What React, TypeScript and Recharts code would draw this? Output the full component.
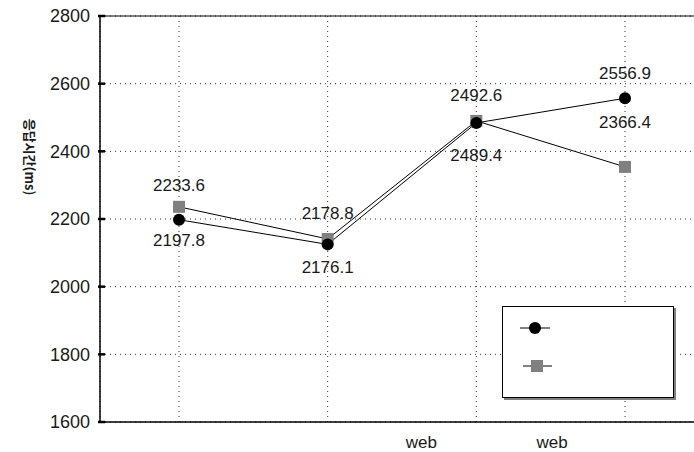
import { LineChart, Line, XAxis, YAxis, CartesianGrid, ReferenceLine, LabelList, Legend } from "recharts";

// category names; the first two labels show nothing in the original
const categories = ["", "", "web", "web"];

// black circle series
const circleValues = [2197.8, 2125, 2484, 2556.9];
const circleLabels = ["2197.8", "2176.1", "2489.4", "2556.9"];

// grey square series
const squareValues = [2236, 2141, 2490, 2354];
const squareLabels = ["2233.6", "2178.8", "2492.6", "2366.4"];

const yTicks = [1600, 1800, 2000, 2200, 2400, 2600, 2800];
const yLabel = "응답시간(ms)";

const data = categories.map((c, i) => ({
    i,
    name: c,
    circle: circleValues[i],
    square: squareValues[i],
}));

const FONT = "'Liberation Sans', Arial, sans-serif";

// small per-point nudges so labels sit where the original put them
const circleDy = [20, 23, 32, -25];
const squareDy = [-22, -26, -26, -45];
const xLabelDx = [0, 0, -55, -73];

function YTick(props: any) {
    const { x, y, payload } = props;
    return (
        <g>
            <line x1={x} x2={x + 7} y1={y} y2={y} stroke="#000" strokeWidth={2.5} />
            <text x={x - 8} y={y} dy="0.35em" textAnchor="end" fontSize={18} fontFamily={FONT} fill="#1a1a1a">
                {payload.value}
            </text>
        </g>
    );
}

function XTick(props: any) {
    const { x, y, payload, index } = props;
    const label = categories[payload.value];
    if (!label) return null;
    return (
        <text x={x + xLabelDx[index]} y={y + 24} textAnchor="middle" fontSize={17} fontFamily={FONT} fill="#1a1a1a">
            {label}
        </text>
    );
}

function pointLabel(labels: string[], offsets: number[]) {
    return (props: any) => {
        const { x, y, index } = props;
        return (
            <text x={x} y={y + offsets[index]} dy="0.35em" textAnchor="middle" fontSize={17} fontFamily={FONT} fill="#1a1a1a">
                {labels[index]}
            </text>
        );
    };
}

function CircleDot(props: any) {
    const { cx, cy } = props;
    return <circle cx={cx} cy={cy} r={6} fill="#000" />;
}

function SquareDot(props: any) {
    const { cx, cy } = props;
    return <rect x={cx - 6} y={cy - 6} width={12} height={12} fill="#808080" />;
}

function LegendBox(props: any) {
    const { payload } = props;
    return (
        <div style={{ width: 170, height: 90, border: "1px solid #000", background: "#fff", boxShadow: "2px 2px 0 #808080" }}>
            <svg width={170} height={90}>
                {(payload || []).map((p: any, k: number) =>
                    p.dataKey === "circle" ? (
                        <g key={k}>
                            <line x1={17} x2={47} y1={21} y2={21} stroke="#000" />
                            <circle cx={32} cy={21} r={6} fill="#000" />
                        </g>
                    ) : (
                        <g key={k}>
                            <line x1={20} x2={49} y1={59} y2={59} stroke="#000" />
                            <rect x={28} y={53} width={12} height={12} fill="#808080" />
                        </g>
                    )
                )}
            </svg>
        </div>
    );
}

export default function App() {
    return (
        <div style={{ position: "absolute", left: 0, top: 0, width: 694, height: 452, overflow: "hidden", background: "#fff" }}>
            <LineChart width={699} height={452} data={data} margin={{ top: 16, right: 0, bottom: 0, left: 0 }}>
                <CartesianGrid stroke="#333" strokeDasharray="1 4" />
                <XAxis
                    dataKey="i"
                    type="category"
                    height={30}
                    padding={{ left: 79, right: 74 }}
                    axisLine={{ stroke: "#000", strokeWidth: 1.5 }}
                    tickLine={false}
                    tickSize={0}
                    tick={<XTick />}
                    interval={0}
                />
                <YAxis
                    width={100}
                    domain={[1600, 2800]}
                    ticks={yTicks}
                    axisLine={{ stroke: "#000", strokeWidth: 1.5 }}
                    tickLine={false}
                    tickSize={0}
                    tick={<YTick />}
                    label={{
                        content: () => (
                            <text
                                x={30}
                                y={157}
                                transform="rotate(90 30 157)"
                                textAnchor="middle"
                                dy="0.35em"
                                fontSize={13}
                                fontWeight="bold"
                                fontFamily="'Noto Sans CJK KR', sans-serif"
                                fill="#1a1a1a"
                            >
                                {yLabel}
                            </text>
                        ),
                    }}
                />
                <ReferenceLine y={2800} stroke="#000" strokeWidth={1} />
                <Legend
                    layout="horizontal"
                    align="center"
                    verticalAlign="middle"
                    wrapperStyle={{ left: 502, top: 306, width: 172, height: 92 }}
                    content={<LegendBox />}
                />
                <Line
                    dataKey="square"
                    name=""
                    stroke="#000"
                    strokeWidth={1}
                    dot={<SquareDot />}
                    activeDot={false}
                    isAnimationActive={false}
                >
                    <LabelList dataKey="square" content={pointLabel(squareLabels, squareDy)} />
                </Line>
                <Line
                    dataKey="circle"
                    name=""
                    stroke="#000"
                    strokeWidth={1}
                    dot={<CircleDot />}
                    activeDot={false}
                    isAnimationActive={false}
                >
                    <LabelList dataKey="circle" content={pointLabel(circleLabels, circleDy)} />
                </Line>
            </LineChart>
        </div>
    );
}
